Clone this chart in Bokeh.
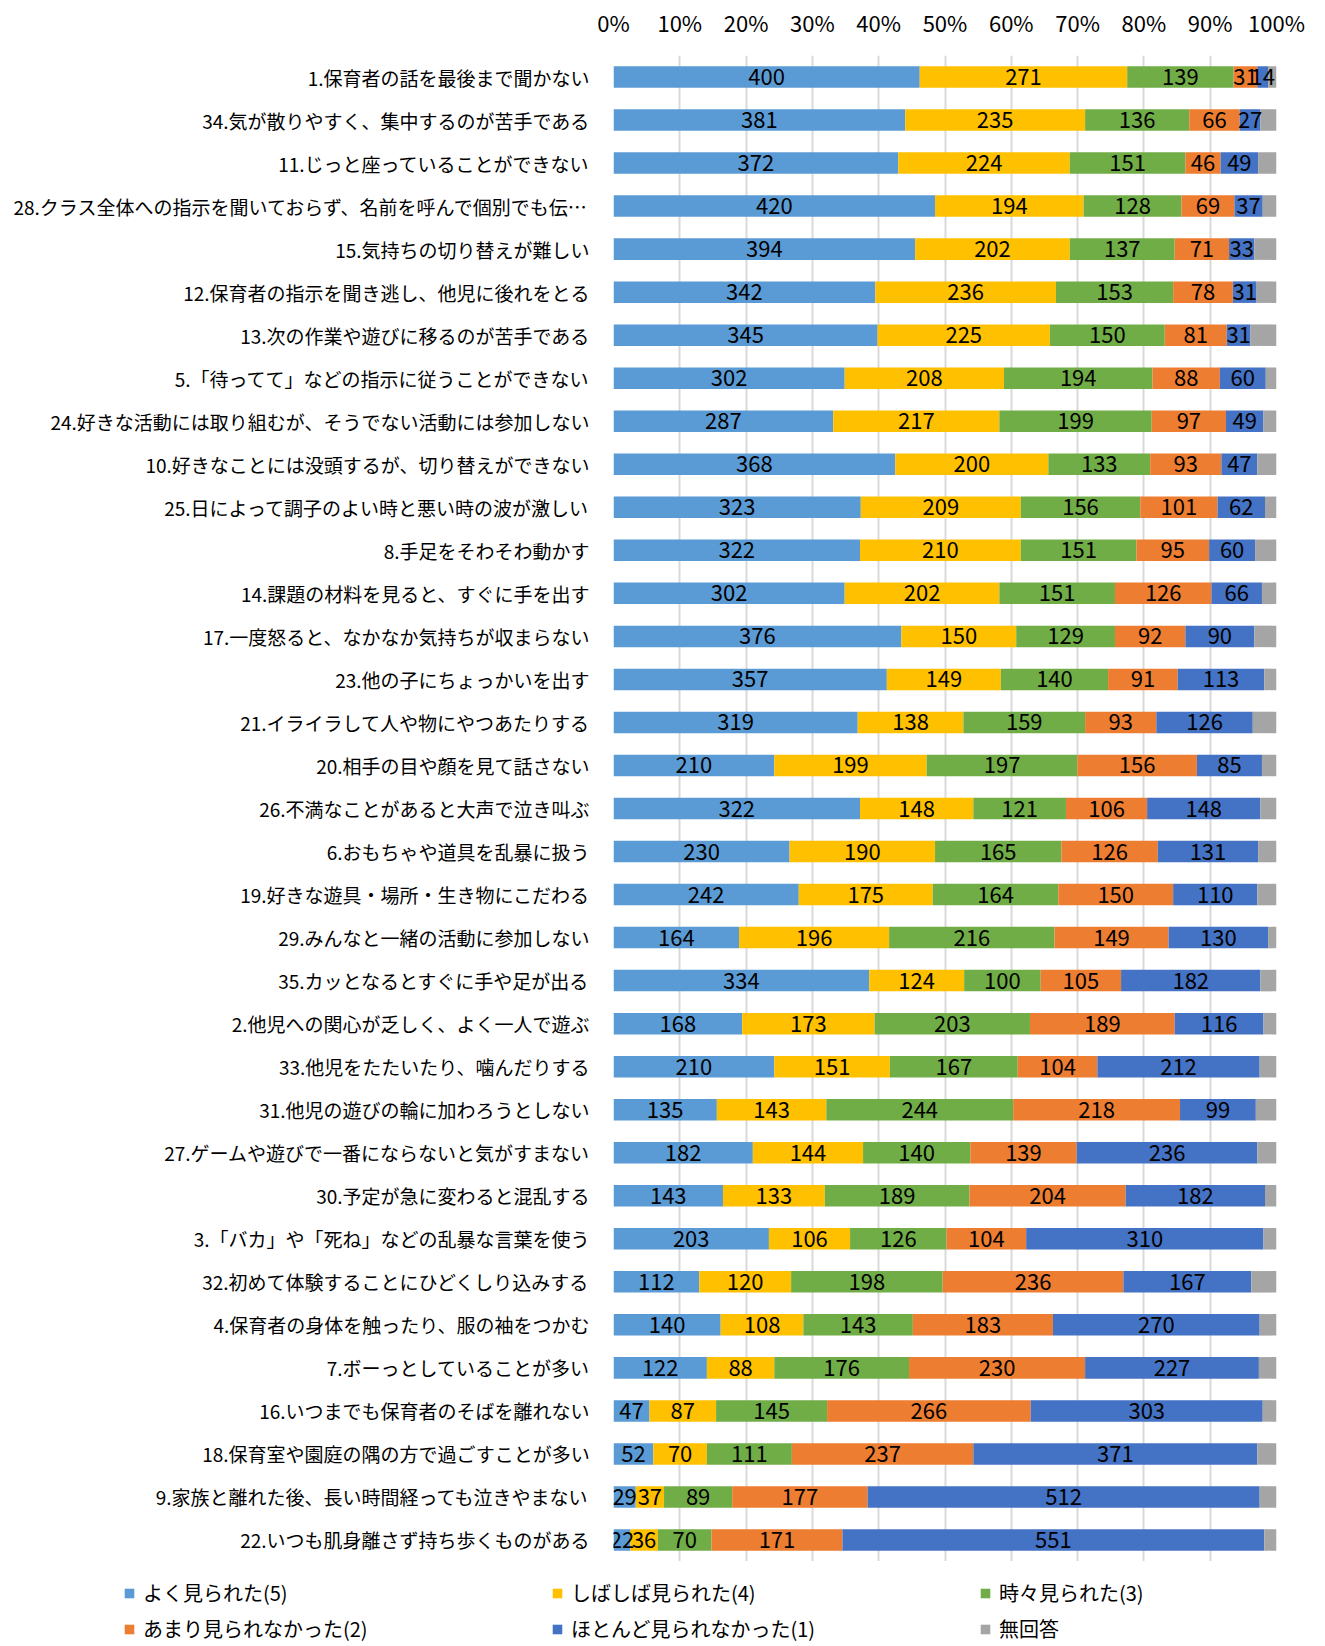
from bokeh.plotting import figure
from bokeh.models import (ColumnDataSource, FactorRange, Range1d, FixedTicker,
                          NumeralTickFormatter, Legend, LegendItem)
from bokeh.core.properties import value
from bokeh.embed import file_html
from bokeh.resources import INLINE
import numpy as np

categories = [
    "1.保育者の話を最後まで聞かない",
    "34.気が散りやすく、集中するのが苦手である",
    "11.じっと座っていることができない",
    "28.クラス全体への指示を聞いておらず、名前を呼んで個別でも伝…",
    "15.気持ちの切り替えが難しい",
    "12.保育者の指示を聞き逃し、他児に後れをとる",
    "13.次の作業や遊びに移るのが苦手である",
    "5.「待ってて」などの指示に従うことができない",
    "24.好きな活動には取り組むが、そうでない活動には参加しない",
    "10.好きなことには没頭するが、切り替えができない",
    "25.日によって調子のよい時と悪い時の波が激しい",
    "8.手足をそわそわ動かす",
    "14.課題の材料を見ると、すぐに手を出す",
    "17.一度怒ると、なかなか気持ちが収まらない",
    "23.他の子にちょっかいを出す",
    "21.イライラして人や物にやつあたりする",
    "20.相手の目や顔を見て話さない",
    "26.不満なことがあると大声で泣き叫ぶ",
    "6.おもちゃや道具を乱暴に扱う",
    "19.好きな遊具・場所・生き物にこだわる",
    "29.みんなと一緒の活動に参加しない",
    "35.カッとなるとすぐに手や足が出る",
    "2.他児への関心が乏しく、よく一人で遊ぶ",
    "33.他児をたたいたり、噛んだりする",
    "31.他児の遊びの輪に加わろうとしない",
    "27.ゲームや遊びで一番にならないと気がすまない",
    "30.予定が急に変わると混乱する",
    "3.「バカ」や「死ね」などの乱暴な言葉を使う",
    "32.初めて体験することにひどくしり込みする",
    "4.保育者の身体を触ったり、服の袖をつかむ",
    "7.ボーっとしていることが多い",
    "16.いつまでも保育者のそばを離れない",
    "18.保育室や園庭の隅の方で過ごすことが多い",
    "9.家族と離れた後、長い時間経っても泣きやまない",
    "22.いつも肌身離さず持ち歩くものがある",
]

s5 = [400, 381, 372, 420, 394, 342, 345, 302, 287, 368, 323, 322, 302, 376, 357, 319, 210, 322,
      230, 242, 164, 334, 168, 210, 135, 182, 143, 203, 112, 140, 122, 47, 52, 29, 22]
s4 = [271, 235, 224, 194, 202, 236, 225, 208, 217, 200, 209, 210, 202, 150, 149, 138, 199, 148,
      190, 175, 196, 124, 173, 151, 143, 144, 133, 106, 120, 108, 88, 87, 70, 37, 36]
s3 = [139, 136, 151, 128, 137, 153, 150, 194, 199, 133, 156, 151, 151, 129, 140, 159, 197, 121,
      165, 164, 216, 100, 203, 167, 244, 140, 189, 126, 198, 143, 176, 145, 111, 89, 70]
s2 = [31, 66, 46, 69, 71, 78, 81, 88, 97, 93, 101, 95, 126, 92, 91, 93, 156, 106,
      126, 150, 149, 105, 189, 104, 218, 139, 204, 104, 236, 183, 230, 266, 237, 177, 171]
s1 = [14, 27, 49, 37, 33, 31, 31, 60, 49, 47, 62, 60, 66, 90, 113, 126, 85, 148,
      131, 110, 130, 182, 116, 212, 99, 236, 182, 310, 167, 270, 227, 303, 371, 512, 551]
s0 = [11, 21, 24, 18, 29, 26, 34, 14, 17, 25, 15, 28, 19, 29, 16, 31, 19, 21,
      24, 25, 11, 21, 17, 22, 27, 25, 15, 17, 33, 22, 23, 18, 25, 22, 16]

series_names = ["よく見られた(5)", "しばしば見られた(4)", "時々見られた(3)",
                "あまり見られなかった(2)", "ほとんど見られなかった(1)", "無回答"]
colors = ["#5B9BD5", "#FFC000", "#70AD47", "#ED7D31", "#4472C4", "#A5A5A5"]
tick_values = [0, 0.1, 0.2, 0.3, 0.4, 0.5, 0.6, 0.7, 0.8, 0.9, 1.0]

FONT = "Noto Sans CJK JP"

counts = np.array([s5, s4, s3, s2, s1, s0], dtype=float)
fracs = counts / counts.sum(axis=0)
keys = ["k%d" % i for i in range(6)]
data = {"cat": categories}
for k, f in zip(keys, fracs):
    data[k] = f
src = ColumnDataSource(data)

p = figure(width=1325, height=1561,
           y_range=FactorRange(factors=list(reversed(categories))),
           x_range=Range1d(0, 1), x_axis_location="above",
           output_backend="svg", toolbar_location=None,
           min_border_left=613, min_border_right=49,
           min_border_top=55, min_border_bottom=0)

renderers = p.hbar_stack(keys, y="cat", height=0.5, fill_color=colors,
                         line_color=None, source=src)

# value labels (not for 無回答)
lx, ly, lt = [], [], []
left = np.zeros(len(categories))
for i in range(6):
    for j, c in enumerate(categories):
        if i < 5:
            lx.append(left[j] + fracs[i][j] / 2)
            ly.append(c)
            lt.append(str(int(counts[i][j])))
    left = left + fracs[i]
lsrc = ColumnDataSource(dict(x=lx, y=ly, t=lt))
p.text(x="x", y="y", text="t", source=lsrc, text_align="center",
       text_baseline="middle", text_font=value(FONT), text_font_size="22px",
       text_color="black")

ticker = FixedTicker(ticks=tick_values)
p.xaxis.ticker = ticker
p.xaxis.formatter = NumeralTickFormatter(format="0%")
p.xaxis.axis_line_color = None
p.xaxis.major_tick_line_color = None
p.xaxis.minor_tick_line_color = None
p.xaxis.major_label_standoff = 12
p.xaxis.major_label_text_font = FONT
p.xaxis.major_label_text_font_size = "22px"
p.xaxis.major_label_text_color = "black"

p.yaxis.axis_line_color = None
p.yaxis.major_tick_line_color = None
p.yaxis.minor_tick_line_color = None
p.yaxis.major_label_standoff = 18
p.yaxis.major_label_text_font = FONT
p.yaxis.major_label_text_font_size = "19px"
p.yaxis.major_label_text_color = "black"

p.xgrid.ticker = ticker
p.xgrid.grid_line_color = "#d9d9d9"
p.xgrid.grid_line_width = 2
p.ygrid.grid_line_color = None
p.outline_line_color = None

# legend as a separate root below the chart
pl = figure(width=1325, height=84, x_range=Range1d(0, 1), y_range=Range1d(0, 1),
            x_axis_location=None, y_axis_location=None,
            output_backend="svg", toolbar_location=None,
            min_border_left=0, min_border_right=0, min_border_top=0,
            min_border_bottom=0)
pl.grid.visible = False
pl.outline_line_color = None
proxies = [pl.hbar(y=[-5], right=[-5], height=0.1, fill_color=c, line_color=None)
           for c in colors]
items = [LegendItem(label=series_names[i], renderers=[proxies[i]]) for i in range(6)]
leg = Legend(items=items, location=(123, 2), orientation="horizontal", ncols=3,
             padding=0, margin=0, spacing=7,
             glyph_width=12, glyph_height=12, label_standoff=8,
             label_height=24, label_width=401, label_text_font=FONT,
             label_text_font_size="20px", label_text_color="black",
             background_fill_alpha=0, border_line_alpha=0)
pl.add_layout(leg, "center")

open("out.html", "w").write(file_html([p, pl], INLINE))
